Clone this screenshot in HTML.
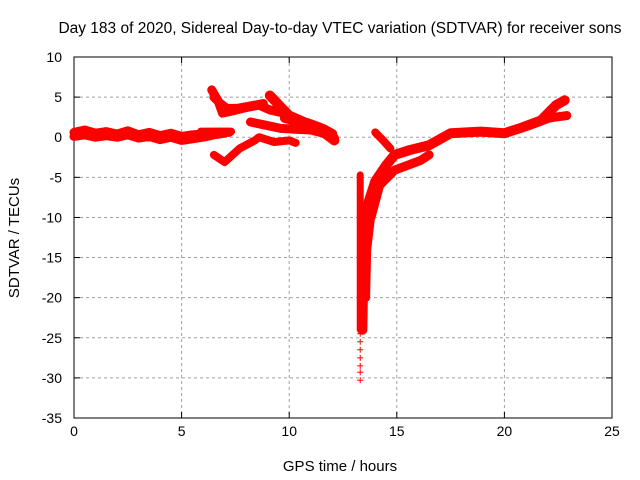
<!DOCTYPE html>
<html><head><meta charset="utf-8"><style>
body{margin:0;background:#fff}
svg{display:block;font-family:"Liberation Sans",sans-serif}
</style></head><body>
<svg id="c" width="640" height="480"></svg>
<script>
const xTicks=[0,5,10,15,20,25];
const yTicks=[10,5,0,-5,-10,-15,-20,-25,-30,-35];
const trackHours=[
[0,0.5,1,1.5,2,2.5,3,3.5,4,4.5,5,5.5,6,6.5,7.2],
[0,0.5,1,1.5,2,2.5,3,3.5,4,4.5,5,5.5,6,6.5,7],
[5.9,6.5,7.3],
[6.4,6.7,6.9,7.4,8,8.6,9.1,9.6],
[6.5,6.8,7.1,7.6,8.2,8.8],
[9.1,9.6,10,10.5,11,11.5,12.1],
[9.8,10.4,11,11.6,12.0],
[10.2,10.8,11.4,11.9],
[8.2,8.9,9.6,10.3,11,11.6,12.1],
[6.5,7,7.7,8.4,8.6,9.3,10,10.3],
[13.3,13.3,13.3,13.3],
[13.4,13.45,13.5,13.7,14,14.5,14.9,15.6,16.5,17.5,18.9,20,20.7,21.7,22.4,22.8],
[13.55,13.6,13.8,14.1,14.6],
[13.8,14.2,14.9,16.1,16.5],
[14,14.4,14.7],
[20,21.2,22.1,22.9]
];
const trackValues=[
[0.6,0.9,0.5,0.7,0.4,0.8,0.3,0.6,0.2,0.5,0.1,0.3,0.4,0.6,0.6],
[0.1,0.3,0.0,0.2,0.0,0.3,-0.1,0.1,-0.3,0.0,-0.4,-0.2,0.0,0.3,0.5],
[0.7,0.7,0.7],
[5.9,4.5,3.0,3.3,3.7,4.0,3.4,3.1],
[5.0,4.2,3.6,3.6,3.9,4.2],
[5.2,3.8,2.7,2.1,1.5,0.8,-0.4],
[2.4,2.0,1.6,1.0,0.4],
[1.3,1.8,1.2,0.2],
[1.9,1.5,1.1,1.0,0.9,0.5,-0.1],
[-2.2,-3.1,-1.4,-0.4,0,-0.6,-0.4,-0.7],
[-4.7,-12,-20,-24],
[-24,-15,-11,-8,-5.5,-3.5,-2.2,-1.6,-1.0,0.5,0.7,0.5,1.1,2.1,4.0,4.6],
[-20,-14,-9.5,-6.5,-4.2],
[-10,-6,-4.1,-2.9,-2.2],
[0.6,-0.5,-1.4],
[0.5,1.5,2.4,2.7]
];
const trackWidths=[9,9,8,9,9,10,10,10,9,8,7,10,9,9,8,9];
const tailValues=[-24.5,-25.5,-26.5,-27.5,-28.5,-29.3,-30.3];
const tailHours=[13.3,13.3,13.3,13.3,13.3,13.3,13.3];
const NS='http://www.w3.org/2000/svg';
const svg=document.getElementById('c');
const L=74,R=612,T=57,B=418;
const X=h=>L+(h-0)/25*(R-L);
const Y=v=>T+(10-v)/45*(B-T);
function mk(tag,attrs,parent){const e=document.createElementNS(NS,tag);for(const k in attrs)e.setAttribute(k,attrs[k]);(parent||svg).appendChild(e);return e;}
const grid=mk('g',{});


xTicks.forEach(t=>{if(t>0&&t<25)mk('line',{x1:X(t),x2:X(t),y1:T,y2:B,stroke:'#a0a0a0','stroke-dasharray':'3,3'},grid);
 const tx=mk('text',{x:X(t),y:B+18,'text-anchor':'middle','font-size':14,fill:'#000'});tx.textContent=t;
 
 
 mk('line',{x1:X(t),x2:X(t),y1:B,y2:B-6,stroke:'#000'});mk('line',{x1:X(t),x2:X(t),y1:T,y2:T+6,stroke:'#000'});});
yTicks.forEach(t=>{if(t<10&&t>-35)mk('line',{x1:L,x2:R,y1:Y(t),y2:Y(t),stroke:'#a0a0a0','stroke-dasharray':'3,3'},grid);
 const tx=mk('text',{x:L-12,y:Y(t)+5,'text-anchor':'end','font-size':14,fill:'#000'});tx.textContent=t;
 
 
 mk('line',{x1:L,x2:L+6,y1:Y(t),y2:Y(t),stroke:'#000'});mk('line',{x1:R,x2:R-6,y1:Y(t),y2:Y(t),stroke:'#000'});});
const frame=mk('rect',{x:L,y:T,width:R-L,height:B-T,fill:'none',stroke:'#000'});


const series=mk('g',{});


trackHours.forEach((hs,i)=>{
 const pts=hs.map((h,j)=>X(h)+','+Y(trackValues[i][j])).join(' ');
 const pl=mk('polyline',{points:pts,fill:'none',stroke:'#f00','stroke-width':trackWidths[i],'stroke-linejoin':'round','stroke-linecap':'round'},series);
 
 
});
tailHours.forEach((h,j)=>{
 const x=X(h),y=Y(tailValues[j]);
 const p=mk('path',{d:`M${x-3},${y}h6M${x},${y-3}v6`,stroke:'#f00','stroke-width':1},series);
 
 
});
const title=mk('text',{x:340,y:33,'text-anchor':'middle','font-size':15.5,fill:'#000'});
title.textContent='Day 183 of 2020, Sidereal Day-to-day VTEC variation (SDTVAR) for receiver sons';


const xl=mk('text',{x:340,y:471,'text-anchor':'middle','font-size':15,fill:'#000'});
xl.textContent='GPS time / hours';


const yl=mk('text',{x:0,y:0,'text-anchor':'middle','font-size':15,fill:'#000',transform:'translate(19,238) rotate(-90)'});
yl.textContent='SDTVAR / TECUs';


</script>
</body></html>
